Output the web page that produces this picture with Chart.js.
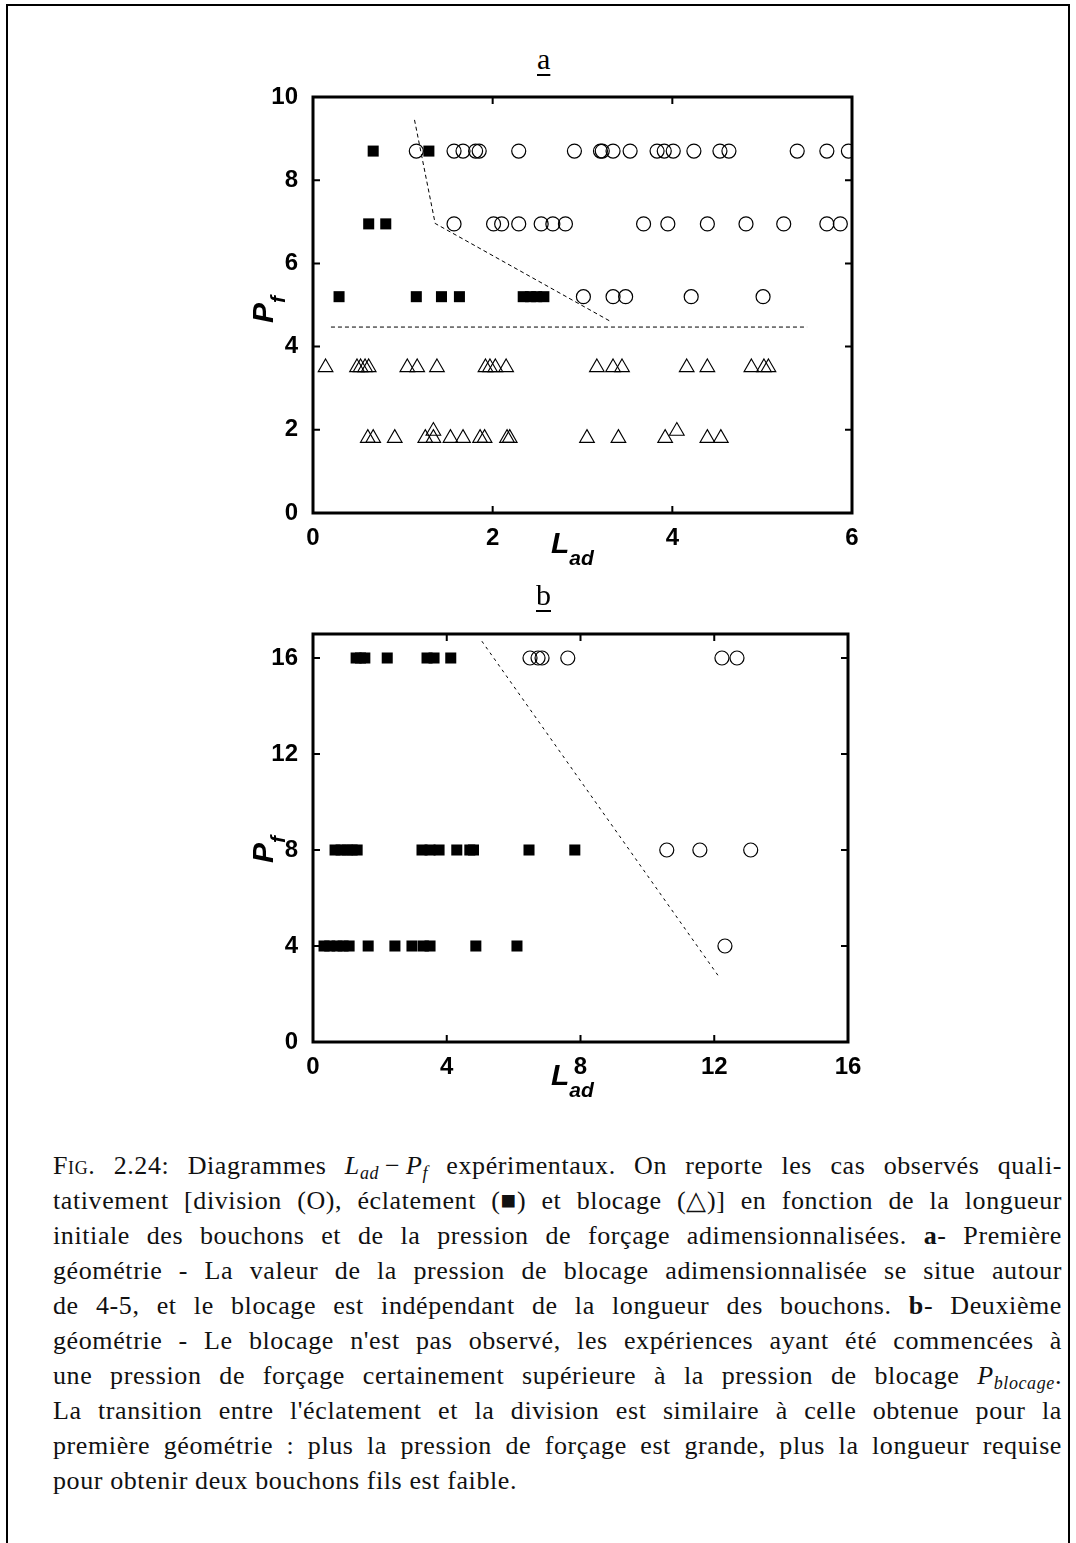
<!DOCTYPE html>
<html>
<head>
<meta charset="utf-8">
<script src="https://cdn.jsdelivr.net/npm/chart.js@4/dist/chart.umd.min.js"></script>
<style>
  html, body { margin: 0; padding: 0; background: #fff; }
  body { width: 1076px; height: 1543px; position: relative; overflow: hidden; }
  .box { position: absolute; background: #000; }
  canvas { position: absolute; }
  .panel { position: absolute; font-family: "Liberation Serif", serif; font-size: 30px; text-decoration: underline; text-decoration-thickness: 2px; text-underline-offset: 5px; }
  .xlab, .ylab { position: absolute; font-family: "Liberation Sans", Arial, sans-serif; font-weight: bold; font-style: italic; font-size: 30px; white-space: nowrap; }
  .xlab sub, .ylab sub { font-size: 21px; vertical-align: -12px; line-height: 0; }
  .ylab { transform: rotate(-90deg); transform-origin: 0 0; }
  .cap { position: absolute; left: 53px; width: 1009px; font-family: "Liberation Serif", serif; font-size: 26px; letter-spacing: 0.6px; line-height: 35px; white-space: nowrap; color: #111; }
  .cap.j { text-align: justify; text-align-last: justify; text-justify: inter-word; white-space: normal; }
  .cap sub { font-size: 18px; vertical-align: -5px; line-height: 0; }
  .nb { display: inline-block; white-space: nowrap; }
  .sc { font-variant: small-caps; }
</style>
</head>
<body>
<div class="box" style="left:6px; top:4px; width:2px; height:1539px;"></div>
<div class="box" style="left:6px; top:4px; width:1064px; height:2px;"></div>
<div class="box" style="left:1068px; top:4px; width:2px; height:1539px;"></div>

<div class="panel" style="left:537px; top:42px;">a</div>
<canvas id="chartA" width="700" height="520" style="left:200px; top:60px;"></canvas>
<div class="xlab" style="left:551px; top:526px;">L<sub>ad</sub></div>
<div class="ylab" style="left:246px; top:323px;">P<sub>f</sub></div>

<div class="panel" style="left:536px; top:578px;">b</div>
<canvas id="chartB" width="700" height="520" style="left:200px; top:600px;"></canvas>
<div class="xlab" style="left:551px; top:1058px;">L<sub>ad</sub></div>
<div class="ylab" style="left:246px; top:863px;">P<sub>f</sub></div>

<div class="cap j" style="top:1148px;"><span class="sc">Fig.</span> 2.24: Diagrammes <span class="nb"><i>L<sub>ad</sub></i>&thinsp;−&thinsp;<i>P<sub>f</sub></i></span> expérimentaux. On reporte les cas observés quali-</div>
<div class="cap j" style="top:1183px;">tativement [division (O), éclatement <span class="nb">(■)</span> et blocage <span class="nb">(△)]</span> en fonction de la longueur</div>
<div class="cap j" style="top:1218px;">initiale des bouchons et de la pression de forçage adimensionnalisées. <b>a</b>- Première</div>
<div class="cap j" style="top:1253px;">géométrie - La valeur de la pression de blocage adimensionnalisée se situe autour</div>
<div class="cap j" style="top:1288px;">de 4-5, et le blocage est indépendant de la longueur des bouchons. <b>b</b>- Deuxième</div>
<div class="cap j" style="top:1323px;">géométrie - Le blocage n'est pas observé, les expériences ayant été commencées à</div>
<div class="cap j" style="top:1358px;">une pression de forçage certainement supérieure à la pression de blocage <i>P<sub>blocage</sub></i>.</div>
<div class="cap j" style="top:1393px;">La transition entre l'éclatement et la division est similaire à celle obtenue pour la</div>
<div class="cap j" style="top:1428px;">première géométrie : plus la pression de forçage est grande, plus la longueur requise</div>
<div class="cap" style="top:1463px;">pour obtenir deux bouchons fils est faible.</div>

<script>
// ---- panel a : first geometry ----
const aXTicks = [0, 2, 4, 6];
const aYTicks = [0, 2, 4, 6, 8, 10];
const aLevels = [8.7, 6.95, 5.2, 3.5, 1.8, 1.97];

// division (open circles)
const aDivTop = [1.15, 1.57, 1.67, 1.81, 1.85, 2.29, 2.91, 3.20, 3.22, 3.34, 3.53, 3.83, 3.91, 4.01, 4.24, 4.53, 4.63, 5.39, 5.72, 5.96];
const aDivMid = [1.57, 2.01, 2.10, 2.29, 2.54, 2.67, 2.81, 3.68, 3.95, 4.39, 4.82, 5.24, 5.72, 5.87];
const aDivLow = [3.01, 3.34, 3.48, 4.21, 5.01];
// eclatement (filled squares)
const aBurstTop = [0.67, 1.29];
const aBurstMid = [0.62, 0.81];
const aBurstLow = [0.29, 1.15, 1.43, 1.63, 2.34, 2.42, 2.49, 2.57];
// blocage (open triangles)
const aBlock35 = [0.14, 0.49, 0.53, 0.58, 0.62, 1.05, 1.16, 1.38, 1.92, 1.97, 2.03, 2.15, 3.16, 3.34, 3.44, 4.16, 4.39, 4.88, 5.02, 5.07];
const aBlock18 = [0.61, 0.67, 0.91, 1.25, 1.34, 1.53, 1.67, 1.86, 1.91, 2.16, 2.19, 3.05, 3.40, 3.92, 4.39, 4.54];
const aBlockRaised = [1.34, 4.05];
// transition lines
const aBlockLineX = [0.2, 5.5];
const aBlockLineY = [4.47, 4.47];
const aSplitLineX = [1.13, 1.36, 3.30];
const aSplitLineY = [9.45, 6.96, 4.62];

// ---- panel b : second geometry ----
const bXTicks = [0, 4, 8, 12, 16];
const bYTicks = [0, 4, 8, 12, 16];
const bLevels = [16, 8, 4];

const bDiv16 = [6.49, 6.73, 6.85, 7.62, 12.23, 12.68];
const bDiv8 = [10.58, 11.57, 13.09];
const bDiv4 = [12.32];
const bBurst16 = [1.29, 1.42, 1.55, 2.22, 3.41, 3.62, 4.12];
const bBurst8 = [0.66, 0.84, 1.02, 1.17, 1.32, 3.26, 3.50, 3.77, 4.30, 4.69, 4.80, 6.46, 7.83];
const bBurst4 = [0.33, 0.50, 0.72, 0.90, 1.08, 1.65, 2.45, 2.96, 3.30, 3.50, 4.87, 6.10];
const bSplitLineX = [5.05, 12.15];
const bSplitLineY = [16.7, 2.7];

const row = (xs, y) => xs.map(x => ({ x, y }));
const zip = (xs, ys) => xs.map((x, i) => ({ x, y: ys[i] }));

const circle = d => ({ data: d, pointStyle: 'circle', pointRadius: 7, backgroundColor: 'rgba(0,0,0,0)', borderColor: '#000', borderWidth: 1.2 });
const square = d => ({ data: d, pointStyle: 'rect', pointRadius: 7.8, backgroundColor: '#000', borderColor: '#000', borderWidth: 0 });
const triangle = d => ({ data: d, pointStyle: 'triangle', pointRadius: 8.5, backgroundColor: 'rgba(0,0,0,0)', borderColor: '#000', borderWidth: 1.1 });
const dashed = (d, dash) => ({ data: d, showLine: true, pointRadius: 0, borderColor: '#000', borderWidth: 1, borderDash: dash, fill: false });

// box round the plot with inward tick marks on all four sides
const frame = {
  id: 'frame',
  afterDatasetsDraw(chart) {
    const { ctx, chartArea: a, scales: { x, y } } = chart;
    ctx.save();
    ctx.strokeStyle = '#000';
    ctx.lineWidth = 2;
    ctx.beginPath();
    x.ticks.forEach(t => {
      const px = x.getPixelForValue(t.value);
      ctx.moveTo(px, a.bottom); ctx.lineTo(px, a.bottom - 7);
      ctx.moveTo(px, a.top); ctx.lineTo(px, a.top + 7);
    });
    y.ticks.forEach(t => {
      const py = y.getPixelForValue(t.value);
      ctx.moveTo(a.left, py); ctx.lineTo(a.left + 7, py);
      ctx.moveTo(a.right, py); ctx.lineTo(a.right - 7, py);
    });
    ctx.stroke();
    ctx.lineWidth = 3;
    ctx.strokeRect(a.left, a.top, a.right - a.left, a.bottom - a.top);
    ctx.restore();
  }
};

const tickFont = { family: '"Liberation Sans", Arial, sans-serif', size: 24, weight: 'bold' };

function makeChart(id, datasets, xr, yr, pad, yW, xH) {
  return new Chart(document.getElementById(id), {
    type: 'scatter',
    data: { datasets },
    options: {
      responsive: false,
      animation: false,
      devicePixelRatio: 1,
      layout: { padding: pad },
      plugins: { legend: { display: false }, tooltip: { enabled: false } },
      scales: {
        x: {
          type: 'linear', min: xr.min, max: xr.max,
          grid: { display: false }, border: { display: false },
          ticks: { color: '#000', font: tickFont, padding: 3, maxRotation: 0, autoSkip: false },
          afterBuildTicks: s => { s.ticks = xr.ticks.map(v => ({ value: v })); },
          afterFit: s => { s.height = xH; }
        },
        y: {
          type: 'linear', min: yr.min, max: yr.max,
          grid: { display: false }, border: { display: false },
          ticks: { color: '#000', font: tickFont, padding: 7, autoSkip: false },
          afterBuildTicks: s => { s.ticks = yr.ticks.map(v => ({ value: v })); },
          afterFit: s => { s.width = yW; }
        }
      }
    },
    plugins: [frame]
  });
}

makeChart('chartA', [
  dashed(zip(aBlockLineX, aBlockLineY), [4, 3]),
  dashed(zip(aSplitLineX, aSplitLineY), [4, 3]),
  circle(row(aDivTop, aLevels[0])),
  circle(row(aDivMid, aLevels[1])),
  circle(row(aDivLow, aLevels[2])),
  square(row(aBurstTop, aLevels[0])),
  square(row(aBurstMid, aLevels[1])),
  square(row(aBurstLow, aLevels[2])),
  triangle(row(aBlock35, aLevels[3])),
  triangle(row(aBlock18, aLevels[4])),
  triangle(row(aBlockRaised, aLevels[5]))
], { min: 0, max: 6, ticks: aXTicks }, { min: 0, max: 10, ticks: aYTicks },
   { top: 37, right: 48, left: 0, bottom: 0 }, 113, 67);

makeChart('chartB', [
  dashed(zip(bSplitLineX, bSplitLineY), [3, 4]),
  circle(row(bDiv16, bLevels[0])),
  circle(row(bDiv8, bLevels[1])),
  circle(row(bDiv4, bLevels[2])),
  square(row(bBurst16, bLevels[0])),
  square(row(bBurst8, bLevels[1])),
  square(row(bBurst4, bLevels[2]))
], { min: 0, max: 16, ticks: bXTicks }, { min: 0, max: 17, ticks: bYTicks },
   { top: 34, right: 52, left: 0, bottom: 0 }, 113, 78);
</script>
</body>
</html>
